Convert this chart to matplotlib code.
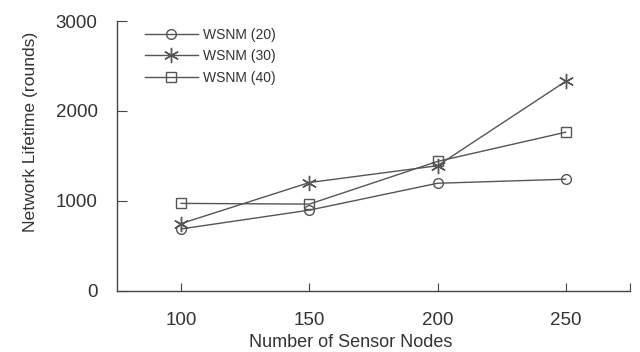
import matplotlib.pyplot as plt

plt.rcParams['font.family'] = ['Liberation Sans', 'DejaVu Sans']

# sensor node counts and lifetime (rounds)
nodes = [100, 150, 200, 250]
wsnm_20 = [688, 897, 1196, 1241]
wsnm_30 = [748, 1204, 1391, 2330]
wsnm_40 = [972, 964, 1439, 1764]
labels = ['WSNM (20)', 'WSNM (30)', 'WSNM (40)']

line_color = '#555555'
text_color = '#333333'

fig = plt.figure(figsize=(6.4, 3.52), dpi=100)
ax = fig.add_axes([0.183, 0.174, 0.801, 0.766])

ax.plot(nodes, wsnm_20, color=line_color, lw=1.0, marker='o', ms=7,
        mfc='none', mec=line_color, mew=1.0, label=labels[0])
ax.plot(nodes, wsnm_30, color=line_color, lw=1.0, marker=(6, 2, 0), ms=11,
        mec=line_color, mew=1.0, label=labels[1])
ax.plot(nodes, wsnm_40, color=line_color, lw=1.0, marker='s', ms=7,
        mfc='none', mec=line_color, mew=1.0, label=labels[2])

ax.set_xlim(75, 275)
ax.set_ylim(0, 3000)
ax.set_xticks(nodes + [275])
ax.set_xticklabels([str(n) for n in nodes] + [''])
ax.set_yticks([0, 1000, 2000, 3000])

for s in ['top', 'right']:
    ax.spines[s].set_visible(False)
for s in ['left', 'bottom']:
    ax.spines[s].set_color('#444444')
    ax.spines[s].set_linewidth(1.0)

ax.tick_params(axis='y', direction='in', length=7, pad=14, labelsize=13.5,
               colors='#444444', labelcolor=text_color)
ax.tick_params(axis='x', direction='in', length=6, pad=15, labelsize=13.5,
               colors='#444444', labelcolor=text_color)

ax.set_xlabel('Number of Sensor Nodes', fontsize=13, color=text_color)
ax.xaxis.set_label_coords(0.456, -0.161)
ax.set_ylabel('Network Lifetime (rounds)', fontsize=12.6, color=text_color)
ax.yaxis.set_label_coords(-0.154, 0.588)

leg = ax.legend(loc='upper left', bbox_to_anchor=(0.03, 1.022), frameon=False,
                fontsize=10, handlelength=3.8, handletextpad=0.4,
                labelspacing=0.55, labelcolor=text_color)

fig.savefig('out.png', dpi=100)
